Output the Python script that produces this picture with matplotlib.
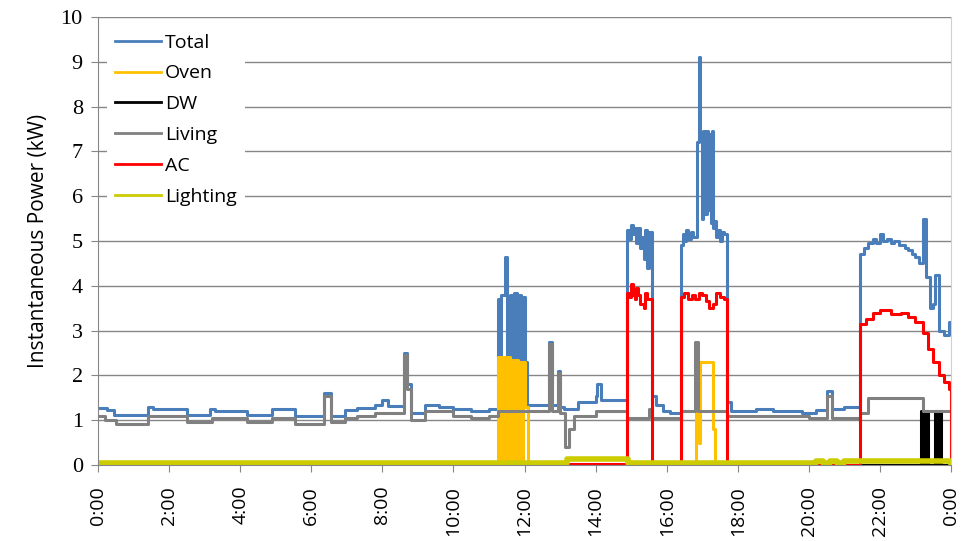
import matplotlib.pyplot as plt

# hours of day / kW, drawn as steps (value holds until next breakpoint)
total_h = [0.00, 0.25, 0.45, 1.40, 1.55, 2.50, 3.15, 3.30, 4.20, 4.90, 5.55, 6.35, 6.55, 6.95,
           7.30, 7.80, 8.00, 8.15, 8.60, 8.70, 8.80, 9.20, 9.60, 10.00, 10.50, 11.00,
           11.25, 11.30, 11.35, 11.45, 11.52, 11.58, 11.66, 11.70, 11.78, 11.82, 11.90, 11.93,
           12.00, 12.08, 12.70, 12.78, 12.93, 13.00, 13.10, 13.50, 14.00, 14.05, 14.15,
           14.88, 14.95, 15.00, 15.05, 15.10, 15.15, 15.20, 15.25, 15.30, 15.35, 15.40, 15.45,
           15.50, 15.60, 15.70, 15.90, 16.10,
           16.40, 16.45, 16.50, 16.55, 16.60, 16.68, 16.75, 16.85, 16.90, 16.95, 17.00, 17.03,
           17.08, 17.12, 17.17, 17.20, 17.25, 17.28, 17.30, 17.35, 17.40, 17.45, 17.50, 17.55,
           17.60, 17.70, 17.80, 18.50, 19.00, 19.80,
           20.20, 20.50, 20.65, 21.00, 21.45, 21.55, 21.65, 21.80, 21.90, 22.00, 22.10, 22.20,
           22.30, 22.40, 22.55, 22.70, 22.80, 22.90, 23.00, 23.10, 23.20, 23.30, 23.40, 23.50,
           23.55, 23.65, 23.80, 23.95, 24.00]
total_kw = [1.28, 1.22, 1.12, 1.30, 1.25, 1.12, 1.25, 1.20, 1.12, 1.25, 1.10, 1.60, 1.10, 1.22,
            1.27, 1.35, 1.45, 1.32, 2.50, 1.80, 1.15, 1.35, 1.30, 1.25, 1.20, 1.25,
            3.70, 1.35, 3.80, 4.65, 1.40, 3.80, 1.40, 3.85, 1.40, 3.80, 1.40, 3.75,
            2.30, 1.35, 2.75, 1.35, 2.10, 1.30, 1.25, 1.40, 1.55, 1.80, 1.45,
            5.25, 5.05, 5.35, 5.15, 5.30, 4.95, 5.30, 4.85, 5.10, 4.60, 5.25, 4.40,
            5.20, 1.55, 1.35, 1.20, 1.15,
            4.90, 5.15, 5.00, 5.25, 5.05, 5.20, 5.10, 7.20, 9.10, 7.40, 5.50, 7.45,
            5.60, 7.45, 5.70, 7.40, 5.40, 7.45, 5.30, 5.45, 5.10, 5.25, 5.00, 5.20,
            5.15, 1.40, 1.20, 1.25, 1.20, 1.15,
            1.22, 1.65, 1.25, 1.30, 4.70, 4.85, 4.95, 5.05, 4.95, 5.15, 5.00, 5.05,
            4.95, 5.00, 4.90, 4.85, 4.80, 4.70, 4.65, 4.50, 5.50, 4.20, 3.50, 3.60,
            4.25, 3.00, 2.90, 3.20, 3.20]

oven_h = [0.00, 11.25, 11.28, 11.31, 11.34, 11.37, 11.40, 11.43, 11.46, 11.49, 11.52, 11.55,
          11.58, 11.61, 11.64, 11.67, 11.70, 11.73, 11.76, 11.79, 11.82, 11.85, 11.88, 11.91,
          11.94, 11.97, 12.00, 12.10,
          16.82, 16.90, 16.95, 17.30, 17.35, 24.00]
oven_kw = [0.00, 2.40, 0.00, 2.40, 0.60, 2.40, 0.00, 2.40, 0.00, 2.40, 0.00, 2.40,
           0.00, 2.35, 0.00, 2.35, 0.00, 2.35, 0.00, 2.35, 0.00, 2.30, 0.00, 2.30,
           0.00, 2.30, 1.30, 0.00,
           2.30, 0.50, 2.30, 0.80, 0.00, 0.00]

dw_h = [0.00, 23.15, 23.22, 23.28, 23.35, 23.55, 23.62, 23.66, 23.72, 24.00]
dw_kw = [0.00, 1.20, 0.00, 1.20, 0.00, 1.20, 0.00, 1.20, 0.00, 0.00]

living_h = [0.00, 0.20, 0.50, 1.40, 2.50, 3.20, 4.20, 4.90, 5.55, 6.35, 6.55, 6.95, 7.30,
            7.80, 8.60, 8.70, 8.80, 9.20, 10.00, 10.50, 11.00, 11.25, 12.10, 12.70, 12.78,
            12.93, 13.00, 13.15, 13.25, 13.40, 14.00, 14.88, 15.50, 15.60, 16.40, 16.80,
            16.88, 17.70, 20.00, 20.50, 20.65, 21.45, 21.65, 23.20, 24.00]
living_kw = [1.10, 1.00, 0.92, 1.10, 0.95, 1.05, 0.95, 1.05, 0.92, 1.55, 0.95, 1.05, 1.10,
             1.15, 2.45, 1.70, 1.00, 1.20, 1.10, 1.05, 1.10, 1.20, 1.20, 2.70, 1.20,
             2.05, 1.15, 0.40, 0.80, 1.10, 1.20, 1.05, 1.25, 1.05, 1.20, 2.75,
             1.20, 1.10, 1.05, 1.55, 1.05, 1.15, 1.50, 1.20, 1.20]

ac_h = [0.00, 13.20, 14.88, 14.95, 15.00, 15.05, 15.10, 15.15, 15.20, 15.25, 15.35, 15.40,
        15.45, 15.60, 16.40, 16.50, 16.60, 16.70, 16.80, 16.90, 17.00, 17.10, 17.20, 17.30,
        17.40, 17.50, 17.60, 17.70, 21.45, 21.60, 21.80, 22.00, 22.30, 22.60, 22.80,
        23.00, 23.20, 23.35, 23.50, 23.65, 23.80, 23.95, 23.99, 24.00]
ac_kw = [0.00, 0.03, 3.85, 3.75, 4.05, 3.80, 3.70, 3.95, 3.80, 3.60, 3.50, 3.85,
         3.70, 0.00, 3.75, 3.85, 3.70, 3.80, 3.70, 3.85, 3.80, 3.65, 3.50, 3.60,
         3.85, 3.75, 3.70, 0.00, 3.15, 3.25, 3.40, 3.45, 3.38, 3.40, 3.30,
         3.20, 2.95, 2.60, 2.30, 2.00, 1.85, 1.70, 0.00, 0.00]

light_h = [0.00, 13.20, 14.90, 20.20, 20.40, 20.60, 20.80, 21.00, 24.00]
light_kw = [0.05, 0.13, 0.05, 0.10, 0.05, 0.10, 0.05, 0.08, 0.05]

tick_labels = ["0:00", "2:00", "4:00", "6:00", "8:00", "10:00", "12:00",
               "14:00", "16:00", "18:00", "20:00", "22:00", "0:00"]

fig = plt.figure(figsize=(9.66, 5.41), dpi=100)
ax = fig.add_axes([0.1015, 0.1405, 0.883, 0.828])

ax.step(total_h, total_kw, where='post', color='#4a7ebb', lw=2.2, label='Total')
ax.step(oven_h, oven_kw, where='post', color='#ffc000', lw=2.2, label='Oven')
ax.step(dw_h, dw_kw, where='post', color='black', lw=2.2, label='DW')
ax.step(living_h, living_kw, where='post', color='#808080', lw=2.2, label='Living')
ax.step(ac_h, ac_kw, where='post', color='#ff0000', lw=2.2, label='AC')
ax.step(light_h, light_kw, where='post', color='#cccc00', lw=4, label='Lighting')

ax.set_xlim(0, 24)
ax.set_ylim(0, 10)
ax.set_yticks(range(0, 11))
ax.set_xticks(range(0, 25, 2))
ax.set_xticklabels(tick_labels, rotation=90, fontsize=14, family='Open Sans')
for t in ax.get_yticklabels():
    t.set_family('Liberation Serif')
    t.set_fontsize(16)
ax.tick_params(axis='both', direction='out', length=5, color='#868686')
ax.tick_params(axis='x', pad=10)
ax.tick_params(axis='y', pad=6)

ax.grid(axis='y', color='#868686', lw=1)
ax.set_axisbelow(True)
ax.spines['top'].set_visible(False)
ax.spines['right'].set_color('#d0d0d0')
ax.spines['left'].set_color('#868686')
ax.spines['bottom'].set_color('#868686')

ax.set_ylabel('Instantaneous Power (kW)', fontsize=15, family='Open Sans', labelpad=8)

leg = ax.legend(loc='upper left', bbox_to_anchor=(0.0, 1.0), prop={'family': 'Open Sans', 'size': 14},
                handlelength=2.4, handletextpad=0.2, labelspacing=0.66, borderaxespad=0.45,
                frameon=True, fancybox=False, framealpha=1, edgecolor='none', facecolor='white')
for l in leg.get_lines():
    l.set_linewidth(2)

plt.savefig('out.png', dpi=100)
